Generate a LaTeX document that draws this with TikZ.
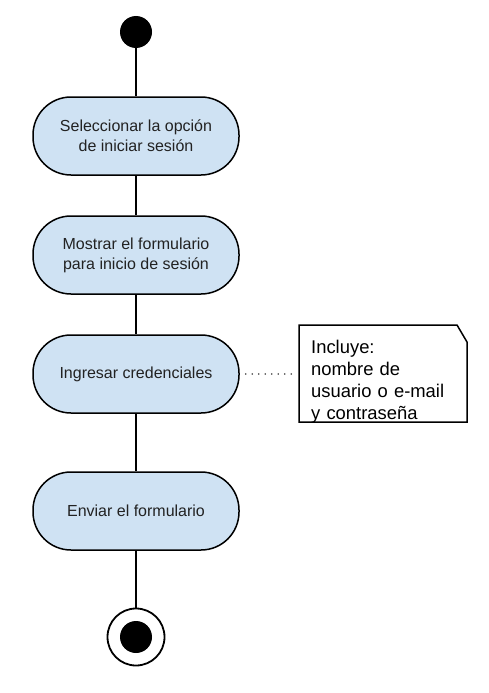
\documentclass[tikz,border=0pt]{standalone}
\usepackage{fontspec}
\setmainfont{Liberation Sans}
\definecolor{actblue}{HTML}{CFE2F3}
\definecolor{txt}{HTML}{222222}
\begin{document}
\begin{tikzpicture}[x=1pt,y=-1pt,
  act/.style={draw=black, line width=1.5pt, fill=actblue, rounded corners=38pt,
    minimum width=206pt, minimum height=78pt, align=center, text=txt,
    font=\fontsize{16}{20}\selectfont, inner sep=0pt},
  flow/.style={draw=black, line width=1.5pt},
  notetext/.style={draw=none, anchor=north west, minimum width=168pt, minimum height=97pt,
    text width=144pt, inner xsep=12pt, inner ysep=0pt, align=left, text=black,
    font=\fontsize{18.4}{22}\selectfont},
  noteline/.style={line width=1.5pt, fill=white, line join=miter},
  anchorline/.style={line width=1.6pt, line cap=round, dash pattern=on 0pt off 6.5pt, draw=black!75}]
\useasboundingbox (0,0) rectangle (489,693);
\fill[white] (0,0) rectangle (489,693);
\node[circle, fill=black, minimum size=32pt, inner sep=0pt] (start) at (136,32) {};
\node[act] (a1) at (136,136) {Seleccionar la opción\\de iniciar sesión};
\node[act] (a2) at (136,255) {Mostrar el formulario\\para inicio de sesión};
\node[act] (a3) at (136,374) {Ingresar credenciales};
\node[act] (a4) at (136,511) {Enviar el formulario};
\node[circle, draw=black, line width=1.8pt, fill=white, minimum size=57pt, inner sep=0pt] (end) at (136,637) {};
\node[circle, fill=black, minimum size=32pt, inner sep=0pt] (endin) at (end.center) {};
\draw[flow] (start) -- (a1);
\draw[flow] (a1) -- (a2);
\draw[flow] (a2) -- (a3);
\draw[flow] (a3) -- (a4);
\draw[flow] (a4) -- (end);
\coordinate (nnw) at (299,325);
\coordinate (nfold1) at (457,325);
\coordinate (nfold2) at (467,342);
\coordinate (nse) at (467,422);
\coordinate (nsw) at (299,422);
\draw[noteline] (nnw) -- (nfold1) -- (nfold2) -- (nse) -- (nsw) -- cycle;
\node[notetext] (note) at (299,333) {Incluye:\\nombre de\\usuario o e-mail\\y contraseña};
\draw[anchorline] ([xshift=6pt]a3.east) -- ([xshift=-3pt]note.west |- a3.east);
\end{tikzpicture}
\end{document}
